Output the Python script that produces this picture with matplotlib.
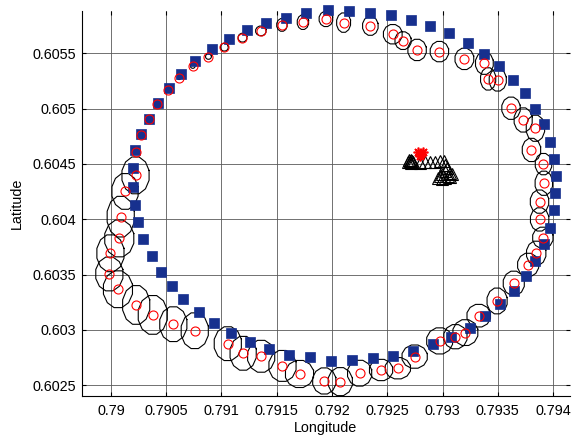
import numpy as np
import matplotlib
matplotlib.use('Agg')
import matplotlib.pyplot as plt
from matplotlib.ticker import FuncFormatter

plt.rcParams['font.family'] = ['Liberation Sans', 'DejaVu Sans']

# reference track (blue squares)
ref_lon = [0.790217, 0.790197, 0.790202, 0.790217, 0.790272, 0.790344, 0.790423, 0.790525,
           0.790634, 0.790761, 0.790912, 0.791069, 0.791229, 0.791404, 0.791586, 0.791767,
           0.791963, 0.792156, 0.792340, 0.792534, 0.792718, 0.792890, 0.793062, 0.793228,
           0.793373, 0.793509, 0.793636, 0.793745, 0.793839, 0.793918, 0.793970, 0.794005,
           0.794023, 0.794020, 0.794009, 0.793970, 0.793917, 0.793841, 0.793757, 0.793645,
           0.793524, 0.793388, 0.793246, 0.793080, 0.792911, 0.792733, 0.792552, 0.792367,
           0.792181, 0.791993, 0.791797, 0.791615, 0.791427, 0.791257, 0.791087, 0.790935,
           0.790793, 0.790655, 0.790550, 0.790450, 0.790369, 0.790293, 0.790242]
ref_lat = [0.604130, 0.604295, 0.604462, 0.604627, 0.604772, 0.604907, 0.605049, 0.605185,
           0.605314, 0.605432, 0.605538, 0.605628, 0.605712, 0.605773, 0.605818, 0.605863,
           0.605893, 0.605884, 0.605868, 0.605848, 0.605802, 0.605751, 0.605682, 0.605592,
           0.605495, 0.605389, 0.605260, 0.605138, 0.604998, 0.604860, 0.604702, 0.604549,
           0.604395, 0.604236, 0.604082, 0.603922, 0.603777, 0.603624, 0.603491, 0.603355,
           0.603235, 0.603127, 0.603021, 0.602939, 0.602871, 0.602810, 0.602769, 0.602744,
           0.602729, 0.602722, 0.602753, 0.602774, 0.602826, 0.602889, 0.602973, 0.603061,
           0.603165, 0.603276, 0.603398, 0.603527, 0.603669, 0.603823, 0.603974]

# estimated positions (red circles)
est_lon = [0.790222, 0.790272, 0.790344, 0.790414, 0.790514, 0.790616, 0.790740, 0.790882,
           0.791026, 0.791190, 0.791356, 0.791547, 0.791737, 0.791945, 0.792105, 0.792347,
           0.792550, 0.792643, 0.792770, 0.792972, 0.793198, 0.793379, 0.793413, 0.793500,
           0.793620, 0.793730, 0.793841, 0.793805, 0.793914, 0.793917, 0.793878, 0.793879,
           0.793908, 0.793848, 0.793775, 0.793645, 0.793494, 0.793328, 0.793207, 0.793117,
           0.792974, 0.792748, 0.792596, 0.792444, 0.792250, 0.792075, 0.791930, 0.791706,
           0.791552, 0.791359, 0.791196, 0.791057, 0.790758, 0.790564, 0.790378, 0.790228,
           0.790063, 0.789985, 0.789995, 0.790075, 0.790088, 0.790127, 0.790222]
est_lat = [0.604609, 0.604763, 0.604907, 0.605040, 0.605170, 0.605281, 0.605387, 0.605471,
           0.605556, 0.605642, 0.605703, 0.605757, 0.605782, 0.605811, 0.605778, 0.605748,
           0.605673, 0.605615, 0.605531, 0.605516, 0.605450, 0.605411, 0.605269, 0.605260,
           0.605004, 0.604898, 0.604823, 0.604627, 0.604499, 0.604326, 0.604160, 0.603999,
           0.603834, 0.603693, 0.603588, 0.603422, 0.603262, 0.603129, 0.602976, 0.602939,
           0.602901, 0.602759, 0.602654, 0.602638, 0.602609, 0.602533, 0.602539, 0.602602,
           0.602675, 0.602762, 0.602789, 0.602876, 0.602993, 0.603052, 0.603136, 0.603226,
           0.603368, 0.603506, 0.603693, 0.603827, 0.604024, 0.604252, 0.604397]

# uncertainty ellipse extents (full width / height, in 1e-6 deg)
ell_w = [27, 27, 27, 27, 32, 36, 45, 54, 72, 82, 97, 97, 106, 127, 130, 145,
         175, 151, 172, 172, 175, 166, 142, 160, 172, 169, 172, 172, 154, 163, 172, 172,
         190, 181, 197, 197, 188, 220, 233, 217, 242, 236, 236, 217, 226, 226, 217, 263,
         254, 254, 245, 254, 254, 254, 272, 254, 272, 254, 254, 272, 254, 245, 254]
ell_h = [27, 27, 27, 27, 32, 36, 45, 50, 72, 81, 90, 118, 136, 142, 181, 175,
         181, 165, 199, 190, 199, 208, 208, 208, 208, 226, 244, 217, 199, 226, 217, 217,
         196, 226, 217, 226, 241, 211, 241, 226, 244, 217, 199, 199, 241, 262, 244, 253,
         289, 298, 316, 316, 334, 325, 362, 362, 344, 316, 344, 344, 380, 334, 344]

# targets (black triangles) and source (red asterisks)
tgt_lon = [0.792700, 0.792709, 0.792718, 0.792709, 0.792727, 0.792736, 0.792718, 0.792691,
           0.792800, 0.792845, 0.792890, 0.792935, 0.792981, 0.793017,
           0.793026, 0.793044, 0.793026, 0.793071, 0.792999, 0.793053, 0.792981, 0.793089,
           0.793026, 0.792963, 0.792999, 0.793071]
tgt_lat = [0.604537, 0.604528, 0.604537, 0.604519, 0.604528, 0.604519, 0.604510, 0.604519,
           0.604510, 0.604519, 0.604519, 0.604519, 0.604528, 0.604528,
           0.604492, 0.604465, 0.604438, 0.604420, 0.604411, 0.604393, 0.604393, 0.604411,
           0.604375, 0.604375, 0.604366, 0.604384]
src_lon = [0.792781, 0.792809, 0.792800, 0.792827]
src_lat = [0.604609, 0.604591, 0.604573, 0.604609]

fig, ax = plt.subplots(figsize=(5.73, 4.38), dpi=100)
fig.subplots_adjust(left=0.1426, right=0.9948, bottom=0.0959, top=0.9749)

t = np.linspace(0, 2 * np.pi, 13) + np.pi / 12
for x0, y0, w, h in zip(est_lon, est_lat, ell_w, ell_h):
    ax.plot(x0 + 0.5e-6 * w * np.cos(t), y0 + 0.5e-6 * h * np.sin(t),
            color='black', lw=0.8, zorder=3)

ax.plot(ref_lon, ref_lat, 's', ms=7.2, mfc='#17308e', mec='#17308e',
        mew=0.5, ls='none', zorder=4, clip_on=False)
ax.plot(est_lon, est_lat, 'o', ms=6.5, mfc='none', mec='red',
        mew=0.8, ls='none', zorder=5)
ax.plot(tgt_lon, tgt_lat, '^', ms=9, mfc='none', mec='black',
        mew=0.8, ls='none', zorder=6)
ax.plot(src_lon, src_lat, ls='none', marker=(8, 2, 0), ms=7, mec='red',
        mew=1.2, zorder=7)

ax.set_xlim(0.789735, 0.794154)
ax.set_ylim(0.602403, 0.605883)
ax.set_xticks(np.arange(0.7900, 0.79401, 0.0005))
ax.set_yticks(np.arange(0.6025, 0.60551, 0.0005))
fmt = FuncFormatter(lambda v, pos: '%g' % round(v, 5))
ax.xaxis.set_major_formatter(fmt)
ax.yaxis.set_major_formatter(fmt)

ax.grid(True, color='0.35', lw=0.6)
ax.set_axisbelow(True)
ax.spines['top'].set_visible(False)
ax.spines['right'].set_visible(False)
ax.tick_params(direction='in', length=3, width=0.8, top=True, right=True,
               labelsize=10.4)
ax.tick_params(axis='x', pad=6)
ax.tick_params(axis='y', pad=4)

ax.set_xlabel('Longitude', fontsize=10.4, labelpad=2)
ax.set_ylabel('Latitude', fontsize=10.4, labelpad=6)

plt.savefig('out.png', dpi=100)
